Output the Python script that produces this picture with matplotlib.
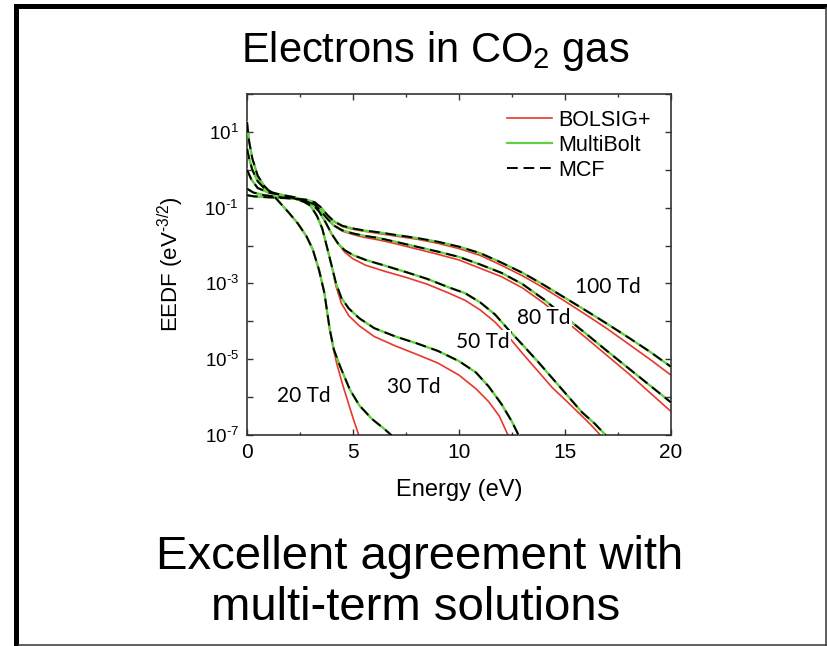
import numpy as np
import matplotlib
matplotlib.use("Agg")
import matplotlib.pyplot as plt
from matplotlib.patches import Rectangle
from matplotlib.lines import Line2D
from matplotlib.ticker import MultipleLocator, LogLocator, FuncFormatter, NullLocator
from matplotlib.mathtext import MathTextParser

plt.rcParams['font.family'] = ['Liberation Sans', 'DejaVu Sans']
plt.rcParams['mathtext.fontset'] = 'custom'
plt.rcParams['mathtext.rm'] = 'Liberation Sans'
plt.rcParams['mathtext.it'] = 'Liberation Sans:italic'
plt.rcParams['mathtext.bf'] = 'Liberation Sans:bold'
plt.rcParams['mathtext.sf'] = 'Liberation Sans'

# ---- EEDF data: energy (eV) and log10 of EEDF (eV^-3/2) ----
field_labels = ["20 Td", "30 Td", "50 Td", "80 Td", "100 Td"]

# 20 Td
energy_20_mb = [0, 0.1, 0.25, 0.5, 0.8, 1.2, 1.6, 2.0, 2.4, 2.8, 3.1, 3.4, 3.65, 3.9,
                4.1, 4.4, 4.85, 5.3, 5.9, 6.5, 6.9]
logf_20_mb = [1.26, 0.75, 0.3, -0.15, -0.42, -0.65, -0.9, -1.15, -1.42, -1.75, -2.1,
              -2.65, -3.25, -4.2, -4.75, -5.2, -5.8, -6.22, -6.58, -6.85, -7.05]
energy_20_bs = [0, 0.1, 0.25, 0.5, 0.8, 1.2, 1.6, 2.0, 2.4, 2.8, 3.1, 3.4, 3.65, 3.9,
                4.1, 4.25, 4.5, 4.75, 5.0, 5.3]
logf_20_bs = [1.26, 0.75, 0.3, -0.15, -0.42, -0.65, -0.9, -1.15, -1.42, -1.75, -2.1,
              -2.65, -3.25, -4.22, -4.8, -5.15, -5.65, -6.1, -6.55, -7.05]

# 30 Td
energy_30_mb = [0, 0.1, 0.25, 0.5, 0.8, 1.2, 1.7, 2.2, 2.7, 3.0, 3.3, 3.55, 3.8, 4.0,
                4.2, 4.45, 4.8, 5.3, 6.0, 7.0, 8.0, 9.0, 10.0, 10.8, 11.4, 12.0, 12.5, 12.85]
logf_30_mb = [0.56, 0.3, 0.0, -0.3, -0.48, -0.6, -0.68, -0.75, -0.85, -0.95, -1.22,
              -1.55, -2.1, -2.55, -3.0, -3.38, -3.66, -3.92, -4.18, -4.4, -4.58, -4.78,
              -5.05, -5.35, -5.72, -6.18, -6.65, -7.05]
energy_30_bs = [0, 0.1, 0.25, 0.5, 0.8, 1.2, 1.7, 2.2, 2.7, 3.0, 3.3, 3.55, 3.8, 4.0,
                4.2, 4.45, 4.8, 5.3, 6.0, 7.0, 8.0, 9.0, 10.0, 10.8, 11.4, 11.9, 12.35]
logf_30_bs = [0.56, 0.3, 0.0, -0.3, -0.48, -0.6, -0.68, -0.75, -0.85, -0.95, -1.22,
              -1.55, -2.1, -2.55, -3.08, -3.52, -3.85, -4.12, -4.4, -4.65, -4.87, -5.1,
              -5.42, -5.78, -6.12, -6.5, -7.05]

# 50 Td
energy_50_mb = [0, 0.2, 0.5, 1.0, 1.6, 2.2, 2.7, 3.1, 3.4, 3.7, 4.0, 4.3, 4.6, 5.0, 5.6,
                6.5, 7.5, 8.5, 9.5, 10.3, 11.0, 11.7, 12.3, 13.0, 13.7, 14.4, 15.1, 15.8,
                16.4, 17.0]
logf_50_mb = [0.0, -0.25, -0.48, -0.6, -0.66, -0.72, -0.8, -0.92, -1.1, -1.38, -1.7,
              -1.95, -2.12, -2.25, -2.38, -2.53, -2.7, -2.88, -3.1, -3.26, -3.5, -3.82,
              -4.2, -4.62, -5.05, -5.5, -5.95, -6.4, -6.7, -7.05]
energy_50_bs = [0, 0.2, 0.5, 1.0, 1.6, 2.2, 2.7, 3.1, 3.4, 3.7, 4.0, 4.3, 4.6, 5.0, 5.6,
                6.5, 7.5, 8.5, 9.5, 10.3, 11.0, 11.7, 12.3, 13.0, 13.7, 14.4, 15.1, 15.8,
                16.2, 16.75]
logf_50_bs = [0.0, -0.25, -0.48, -0.6, -0.66, -0.72, -0.8, -0.92, -1.1, -1.38, -1.7,
              -1.95, -2.17, -2.35, -2.52, -2.68, -2.84, -3.02, -3.25, -3.45, -3.7, -4.02,
              -4.38, -4.85, -5.3, -5.75, -6.12, -6.5, -6.72, -7.05]

# 80 Td and 100 Td share one energy grid
energy_hi = [0, 0.3, 0.8, 1.5, 2.2, 2.8, 3.2, 3.5, 3.8, 4.1, 4.5, 5.0, 5.5, 6.2, 7.0,
             8.0, 9.0, 10.0, 11.0, 12.0, 13.0, 14.0, 15.0, 16.0, 17.0, 18.0, 19.0, 20.0]
logf_80_mb = [-0.5, -0.6, -0.67, -0.72, -0.76, -0.82, -0.92, -1.1, -1.3, -1.47, -1.6,
              -1.68, -1.74, -1.8, -1.9, -2.03, -2.16, -2.3, -2.5, -2.72, -3.02, -3.42,
              -3.88, -4.33, -4.79, -5.24, -5.69, -6.14]
logf_80_bs = [-0.5, -0.6, -0.67, -0.72, -0.76, -0.82, -0.92, -1.1, -1.3, -1.48, -1.62,
              -1.71, -1.78, -1.85, -1.95, -2.09, -2.23, -2.38, -2.6, -2.82, -3.12, -3.52,
              -3.98, -4.44, -4.91, -5.38, -5.88, -6.38]
logf_100_mb = [-0.67, -0.7, -0.72, -0.74, -0.76, -0.79, -0.86, -1.0, -1.2, -1.36, -1.48,
               -1.55, -1.6, -1.65, -1.72, -1.8, -1.9, -2.03, -2.2, -2.45, -2.72, -3.04,
               -3.38, -3.72, -4.07, -4.43, -4.8, -5.2]
logf_100_bs = [-0.67, -0.7, -0.72, -0.74, -0.76, -0.79, -0.86, -1.0, -1.2, -1.37, -1.5,
               -1.57, -1.62, -1.68, -1.75, -1.83, -1.94, -2.08, -2.26, -2.52, -2.8, -3.12,
               -3.47, -3.83, -4.2, -4.6, -5.0, -5.42]

# MCF results lie on the MultiBolt curves
bolsig = [(energy_20_bs, logf_20_bs), (energy_30_bs, logf_30_bs), (energy_50_bs, logf_50_bs),
          (energy_hi, logf_80_bs), (energy_hi, logf_100_bs)]
multibolt = [(energy_20_mb, logf_20_mb), (energy_30_mb, logf_30_mb), (energy_50_mb, logf_50_mb),
             (energy_hi, logf_80_mb), (energy_hi, logf_100_mb)]
mcf = multibolt

legend_names = ['BOLSIG+', 'MultiBolt', 'MCF']

RED = '#E8372C'
GREEN = '#62D040'
MCF_DASH = (5.5, 3)

fig = plt.figure(figsize=(8.27, 6.46), dpi=100)
W, H = 827.0, 646.0

# slide frame
fig.add_artist(Rectangle((14 / W, 0), 5 / W, 1 - 4 / H, transform=fig.transFigure,
                         facecolor='black', edgecolor='none'))
fig.add_artist(Rectangle((14 / W, 1 - 8.5 / H), 1 - 14 / W, 4.5 / H, transform=fig.transFigure,
                         facecolor='black', edgecolor='none'))
fig.add_artist(Line2D([1 - 1 / W, 1 - 1 / W], [0, 1 - 8 / H], transform=fig.transFigure,
                      color='#444444', lw=1.2))
fig.add_artist(Line2D([19 / W, 1], [0.6 / H, 0.6 / H], transform=fig.transFigure,
                      color='#444444', lw=1.2))

ax = fig.add_axes([247 / W, 1 - 435 / H, 424 / W, 341 / H])

for e, lf in bolsig:
    ax.plot(e, np.power(10.0, lf), color=RED, lw=1.2, zorder=2)
for e, lf in multibolt:
    ax.plot(e, np.power(10.0, lf), color=GREEN, lw=1.7, zorder=3)
for e, lf in mcf:
    ax.plot(e, np.power(10.0, lf), color='black', lw=1.4, dashes=MCF_DASH, zorder=4)

ax.set_yscale('log')
ax.set_xlim(0, 20)
ax.set_ylim(1e-7, 1e2)

ax.xaxis.set_major_locator(MultipleLocator(5))
ax.xaxis.set_minor_locator(MultipleLocator(2.5))
ax.yaxis.set_major_locator(LogLocator(base=10, numticks=20))
ax.yaxis.set_minor_locator(NullLocator())

# exponents are written with a short hyphen, as in the original axis style
try:
    MathTextParser('agg').parse(r'$10^{\text{-}1}$', dpi=100)
    NEG = r'\text{-}'
except Exception:
    NEG = '-'


def decade_label(v, pos):
    ex = int(round(np.log10(v)))
    if ex % 2 == 0:
        return ''
    sign = NEG if ex < 0 else ''
    return f'$10^{{{sign}{abs(ex)}}}$'


ax.yaxis.set_major_formatter(FuncFormatter(decade_label))
ax.tick_params(which='both', direction='in', top=True, right=True, color='#333333', width=1.0)
ax.tick_params(which='major', length=4.5)
ax.tick_params(which='minor', length=2.5)
ax.tick_params(axis='x', labelsize=15, pad=6)
ax.tick_params(axis='y', labelsize=13.5, pad=6)
for s in ax.spines.values():
    s.set_color('#333333')
    s.set_linewidth(1.2)

ax.set_xlabel('Energy (eV)', fontsize=17, labelpad=12)
ax.set_ylabel('EEDF (eV$^{' + NEG + '3/2}$)', fontsize=16, labelpad=13)

# legend keys drawn in axes coordinates
key_styles = [dict(color=RED, lw=1.2), dict(color=GREEN, lw=1.6),
              dict(color='black', lw=1.4, dashes=MCF_DASH)]
row_y = [0.9287, 0.8554, 0.7821]
for name, style, ry in zip(legend_names, key_styles, row_y):
    ax.add_line(Line2D([0.6132, 0.7193], [ry, ry], transform=ax.transAxes, **style))
    ax.text(0.7335, ry - 0.022, name, transform=ax.transAxes, fontsize=15.5,
            ha='left', va='baseline')

# field labels next to their curves
label_pos = [(2.70, -5.97), (7.89, -5.74), (11.11, -4.54), (14.01, -3.92), (17.03, -3.09)]
for name, (ex, ly) in zip(field_labels, label_pos):
    ax.text(ex, 10 ** ly, name, fontsize=15, family=['Lato', 'DejaVu Sans'],
            ha='center', va='center', zorder=6,
            bbox=dict(facecolor='white', edgecolor='none', pad=1.0))

fig.text(435 / W, 1 - 62 / H, 'Electrons in CO$_2$ gas', fontsize=30,
         ha='center', va='baseline')
fig.text(420 / W, 1 - 557 / H, 'Excellent agreement with', fontsize=34,
         ha='center', va='center')
fig.text(416 / W, 1 - 608 / H, 'multi-term solutions', fontsize=34,
         ha='center', va='center')

fig.savefig('out.png', dpi=100, facecolor='white')
